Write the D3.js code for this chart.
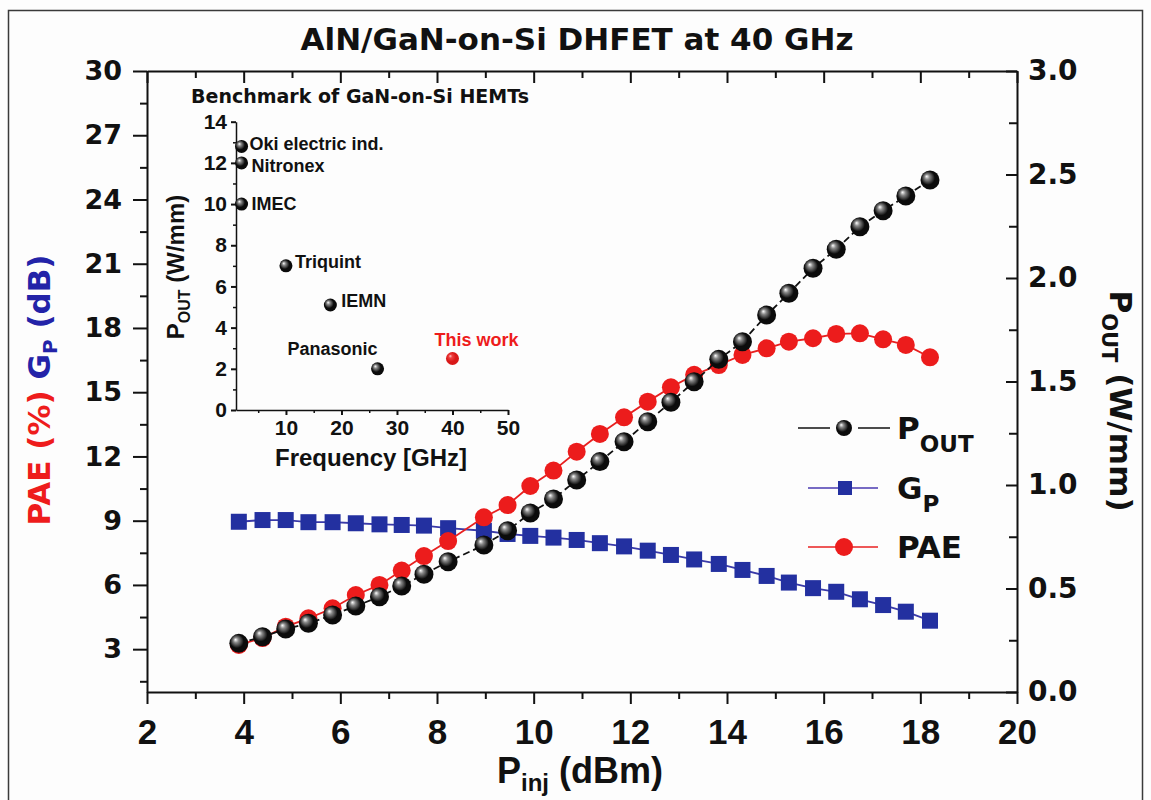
<!DOCTYPE html>
<html>
<head>
<meta charset="utf-8">
<script src="https://cdn.jsdelivr.net/npm/d3@7/dist/d3.min.js"></script>
<style>
    body { margin: 0; background: #fdfdfd; }
    svg text { font-family: "DejaVu Sans", sans-serif; font-weight: bold; fill: #111; }
</style>
</head>
<body>
<svg id="chart" width="1151" height="800"></svg>
<script>
// ---- main curves ----
let pinj = [3.90, 4.39, 4.87, 5.34, 5.84, 6.32, 6.81, 7.27, 7.73, 8.23, 8.97, 9.46, 9.93, 10.41, 10.89,
    11.37, 11.87, 12.36, 12.84, 13.32, 13.83, 14.32, 14.82, 15.28, 15.78, 16.26, 16.75, 17.23, 17.70, 18.20]
let pout = [0.235, 0.267, 0.304, 0.332, 0.372, 0.415, 0.460, 0.512, 0.569, 0.629, 0.710, 0.779, 0.865, 0.932, 1.024,
    1.113, 1.209, 1.306, 1.400, 1.499, 1.607, 1.692, 1.821, 1.926, 2.047, 2.139, 2.248, 2.325, 2.396, 2.473]
let pae = [3.20, 3.52, 4.05, 4.44, 4.91, 5.53, 6.00, 6.67, 7.35, 8.05, 9.16, 9.73, 10.62, 11.34, 12.22,
    13.05, 13.83, 14.56, 15.23, 15.81, 16.27, 16.74, 17.05, 17.36, 17.52, 17.72, 17.75, 17.47, 17.21, 16.63]
let gp = [8.95, 9.03, 9.03, 8.93, 8.93, 8.88, 8.83, 8.80, 8.77, 8.65, 8.53, 8.38, 8.29, 8.21, 8.10,
    7.95, 7.80, 7.60, 7.40, 7.19, 6.98, 6.70, 6.42, 6.11, 5.85, 5.68, 5.33, 5.06, 4.75, 4.33]

// ---- axis ticks ----
let xTicks = [2, 4, 6, 8, 10, 12, 14, 16, 18, 20]
let yLeftTicks = [3, 6, 9, 12, 15, 18, 21, 24, 27, 30]
let yRightTicks = [0, 0.5, 1.0, 1.5, 2.0, 2.5, 3.0]

// ---- inset benchmark ----
let benchLabels = ["Oki electric ind.", "Nitronex", "IMEC", "Triquint", "IEMN", "Panasonic", "This work"]
let benchFreq = [2, 2, 2, 10, 18, 26.5, 40]
let benchPout = [12.8, 12, 10, 7, 5.1, 2, 2.5]
let insetXTicks = [10, 20, 30, 40, 50]
let insetYTicks = [0, 2, 4, 6, 8, 10, 12, 14]

// label placement for the inset points (dx, dy, anchor)
let benchLabelPos = [[8, -3, "start"], [10, 3, "start"], [10, -1, "start"], [9, -4, "start"],
    [11, -4, "start"], [0, -20, "end"], [-18, -19, "start"]]

let W = 1151, H = 800
let plot = { left: 147, right: 1017, top: 71, bottom: 692 }

let svg = d3.select("#chart")
svg.append("rect").attr("width", W).attr("height", H).attr("fill", "#fdfdfd")
//外框
svg.append("rect")
    .attr("x", 8.5).attr("y", 10.5)
    .attr("width", 1134).attr("height", 820)
    .attr("fill", "none").attr("stroke", "#3a3a3a").attr("stroke-width", 1.5)

let x = d3.scaleLinear().domain([2, 20]).range([plot.left, plot.right])
let yL = d3.scaleLinear().domain([1, 30]).range([plot.bottom, plot.top])
let yR = d3.scaleLinear().domain([0, 3]).range([plot.bottom, plot.top])

// sphere gradients
let defs = svg.append("defs")
function ballGradient(id, light, mid, dark) {
    let g = defs.append("radialGradient").attr("id", id)
        .attr("cx", "45%").attr("cy", "45%").attr("r", "60%")
        .attr("fx", "32%").attr("fy", "30%")
    g.append("stop").attr("offset", "0%").attr("stop-color", light)
    g.append("stop").attr("offset", "22%").attr("stop-color", mid)
    g.append("stop").attr("offset", "60%").attr("stop-color", dark)
    g.append("stop").attr("offset", "100%").attr("stop-color", dark)
}
ballGradient("ballBlack", "#ffffff", "#8a8a8a", "#0b0b0b")
ballGradient("ballRed", "#ffd0d0", "#f04040", "#d81818")

function midpoints(arr) {
    return d3.pairs(arr).map(p => (p[0] + p[1]) / 2)
}

function styleAxis(g, size, family) {
    g.selectAll(".domain").attr("stroke", "#111").attr("stroke-width", 2)
    g.selectAll(".tick line").attr("stroke", "#111").attr("stroke-width", 2)
    g.selectAll(".tick text")
        .style("font-size", size + "px")
        .style("font-family", family)
        .style("font-weight", "bold")
        .attr("fill", "#111")
}

// ---- main axes ----
let gBottom = svg.append("g").attr("transform", "translate(0," + plot.bottom + ")")
    .call(d3.axisBottom(x).tickValues(xTicks).tickSize(12).tickSizeOuter(0).tickPadding(15))
styleAxis(gBottom, 35, "'Liberation Sans', Arial, sans-serif")
svg.append("g").attr("transform", "translate(0," + plot.bottom + ")")
    .call(d3.axisBottom(x).tickValues(midpoints(xTicks)).tickSize(7).tickFormat(""))
    .call(g => { g.select(".domain").remove(); g.selectAll("line").attr("stroke", "#111").attr("stroke-width", 2) })

let gTop = svg.append("g").attr("transform", "translate(0," + plot.top + ")")
    .call(d3.axisTop(x).tickValues(xTicks).tickSize(-12).tickSizeOuter(0).tickFormat(""))
styleAxis(gTop, 10, "sans-serif")
svg.append("g").attr("transform", "translate(0," + plot.top + ")")
    .call(d3.axisTop(x).tickValues(midpoints(xTicks)).tickSize(-7).tickFormat(""))
    .call(g => { g.select(".domain").remove(); g.selectAll("line").attr("stroke", "#111").attr("stroke-width", 2) })

let gLeft = svg.append("g").attr("transform", "translate(" + plot.left + ",0)")
    .call(d3.axisLeft(yL).tickValues(yLeftTicks).tickSize(14).tickSizeOuter(0).tickPadding(11))
styleAxis(gLeft, 27, "'DejaVu Sans', sans-serif")
svg.append("g").attr("transform", "translate(" + plot.left + ",0)")
    .call(d3.axisLeft(yL).tickValues([1.5].concat(midpoints(yLeftTicks))).tickSize(7).tickFormat(""))
    .call(g => { g.select(".domain").remove(); g.selectAll("line").attr("stroke", "#111").attr("stroke-width", 2) })

let gRight = svg.append("g").attr("transform", "translate(" + plot.right + ",0)")
    .call(d3.axisRight(yR).tickValues(yRightTicks).tickSize(-11).tickSizeOuter(0).tickPadding(11)
        .tickFormat(d3.format(".1f")))
styleAxis(gRight, 28, "'DejaVu Sans', sans-serif")
svg.append("g").attr("transform", "translate(" + plot.right + ",0)")
    .call(d3.axisRight(yR).tickValues(midpoints(yRightTicks)).tickSize(-8).tickFormat(""))
    .call(g => { g.select(".domain").remove(); g.selectAll("line").attr("stroke", "#111").attr("stroke-width", 2) })

// ---- title and axis titles ----
svg.append("text")
    .attr("x", 577).attr("y", 50)
    .attr("text-anchor", "middle")
    .style("font-size", "31px")
    .text("AlN/GaN-on-Si DHFET at 40 GHz")

let xTitle = svg.append("text")
    .attr("x", 580).attr("y", 783)
    .attr("text-anchor", "middle")
    .style("font-family", "'Liberation Sans', Arial, sans-serif")
    .style("font-size", "36px")
xTitle.append("tspan").text("P")
xTitle.append("tspan").attr("dy", 8).style("font-size", "24px").text("inj")
xTitle.append("tspan").attr("dy", -8).text(" (dBm)")

let yTitle = svg.append("text")
    .attr("transform", "translate(50,390) rotate(-90)")
    .attr("text-anchor", "middle")
    .style("font-size", "31px")
yTitle.append("tspan").attr("fill", "#ee1c1c").text("PAE (%) ")
yTitle.append("tspan").attr("fill", "#2323a8").text("G")
yTitle.append("tspan").attr("fill", "#2323a8").attr("dy", 7).style("font-size", "20px").text("P")
yTitle.append("tspan").attr("fill", "#2323a8").attr("dy", -7).text(" (dB)")

let y2Title = svg.append("text")
    .attr("transform", "translate(1110,401) rotate(90)")
    .attr("text-anchor", "middle")
    .style("font-size", "31px")
y2Title.append("tspan").text("P")
y2Title.append("tspan").attr("dy", 8).style("font-size", "21px").text("OUT")
y2Title.append("tspan").attr("dy", -8).text(" (W/mm)")

// ---- curves ----
let ptsGp = d3.zip(pinj, gp)
let ptsPae = d3.zip(pinj, pae)
let ptsPout = d3.zip(pinj, pout)

let lineL = d3.line().x(d => x(d[0])).y(d => yL(d[1]))
let lineR = d3.line().x(d => x(d[0])).y(d => yR(d[1]))

svg.append("path").datum(ptsGp).attr("d", lineL)
    .attr("fill", "none").attr("stroke", "#3a3aa8").attr("stroke-width", 1.8)
svg.selectAll(".gpMark").data(ptsGp).enter().append("rect")
    .attr("class", "gpMark")
    .attr("x", d => x(d[0]) - 8).attr("y", d => yL(d[1]) - 8)
    .attr("width", 16).attr("height", 16)
    .attr("fill", "#2330a0")

svg.append("path").datum(ptsPae).attr("d", lineL)
    .attr("fill", "none").attr("stroke", "#e82020").attr("stroke-width", 1.8)
svg.selectAll(".paeMark").data(ptsPae).enter().append("circle")
    .attr("class", "paeMark")
    .attr("cx", d => x(d[0])).attr("cy", d => yL(d[1]))
    .attr("r", 9)
    .attr("fill", "#ec1c1c")

svg.append("path").datum(ptsPout).attr("d", lineR)
    .attr("fill", "none").attr("stroke", "#111").attr("stroke-width", 1.8)
    .attr("stroke-dasharray", "7,4")
svg.selectAll(".poutMark").data(ptsPout).enter().append("circle")
    .attr("class", "poutMark")
    .attr("cx", d => x(d[0])).attr("cy", d => yR(d[1]))
    .attr("r", 9.5)
    .attr("fill", "url(#ballBlack)")

// ---- legend ----
let legend = svg.append("g")
let legY = [428, 488, 547]
// P_OUT
legend.append("line").attr("x1", 798).attr("x2", 830).attr("y1", legY[0]).attr("y2", legY[0])
    .attr("stroke", "#111").attr("stroke-width", 1.5)
legend.append("line").attr("x1", 858).attr("x2", 890).attr("y1", legY[0]).attr("y2", legY[0])
    .attr("stroke", "#111").attr("stroke-width", 1.5)
legend.append("circle").attr("cx", 844).attr("cy", legY[0]).attr("r", 8).attr("fill", "url(#ballBlack)")
// G_P
legend.append("line").attr("x1", 808).attr("x2", 878).attr("y1", legY[1]).attr("y2", legY[1])
    .attr("stroke", "#4a3ab0").attr("stroke-width", 1.5)
legend.append("rect").attr("x", 838).attr("y", legY[1] - 7).attr("width", 14).attr("height", 14).attr("fill", "#2330a0")
// PAE
legend.append("line").attr("x1", 808).attr("x2", 878).attr("y1", legY[2]).attr("y2", legY[2])
    .attr("stroke", "#e82020").attr("stroke-width", 1.5)
legend.append("circle").attr("cx", 844).attr("cy", legY[2]).attr("r", 9).attr("fill", "#ec1c1c")

let legText = [["P", "OUT"], ["G", "P"], ["PAE", ""]]
legText.forEach(function (t, i) {
    let tx = legend.append("text").attr("x", 897).attr("y", legY[i] + 11).style("font-size", "31px")
    tx.append("tspan").text(t[0])
    if (t[1] !== "")
        tx.append("tspan").attr("dy", 13).style("font-size", "23px").text(t[1])
})

// ---- inset ----
let ix = d3.scaleLinear().domain([1, 50]).range([236, 508])
let iy = d3.scaleLinear().domain([0, 14]).range([410, 121.7])
let inset = svg.append("g")

let giX = inset.append("g").attr("transform", "translate(0,410)")
    .call(d3.axisBottom(ix).tickValues(insetXTicks).tickSize(5).tickSizeOuter(0).tickPadding(5))
styleAxis(giX, 21, "'Liberation Sans', Arial, sans-serif")
inset.append("g").attr("transform", "translate(0,410)")
    .call(d3.axisBottom(ix).tickValues([5].concat(midpoints(insetXTicks))).tickSize(3).tickFormat(""))
    .call(g => { g.select(".domain").remove(); g.selectAll("line").attr("stroke", "#111").attr("stroke-width", 1.5) })

let giY = inset.append("g").attr("transform", "translate(236,0)")
    .call(d3.axisLeft(iy).tickValues(insetYTicks).tickSize(5).tickSizeOuter(0).tickPadding(4))
styleAxis(giY, 21, "'Liberation Sans', Arial, sans-serif")
inset.append("g").attr("transform", "translate(236,0)")
    .call(d3.axisLeft(iy).tickValues(midpoints(insetYTicks)).tickSize(3).tickFormat(""))
    .call(g => { g.select(".domain").remove(); g.selectAll("line").attr("stroke", "#111").attr("stroke-width", 1.5) })
inset.selectAll(".domain").attr("stroke-width", 1.5)

inset.append("text")
    .attr("x", 360).attr("y", 103)
    .attr("text-anchor", "middle")
    .style("font-size", "19px")
    .text("Benchmark of GaN-on-Si HEMTs")

inset.append("text")
    .attr("x", 371).attr("y", 466)
    .attr("text-anchor", "middle")
    .style("font-family", "'Liberation Sans', Arial, sans-serif")
    .style("font-size", "24px")
    .text("Frequency [GHz]")

let iyTitle = inset.append("text")
    .attr("transform", "translate(184,267) rotate(-90)")
    .attr("text-anchor", "middle")
    .style("font-family", "'Liberation Sans', Arial, sans-serif")
    .style("font-size", "24px")
iyTitle.append("tspan").text("P")
iyTitle.append("tspan").attr("dy", 6).style("font-size", "16px").text("OUT")
iyTitle.append("tspan").attr("dy", -6).text(" (W/mm)")

let benchPts = d3.zip(benchFreq, benchPout, benchLabels)
inset.selectAll(".benchMark").data(benchPts).enter().append("circle")
    .attr("class", "benchMark")
    .attr("cx", d => ix(d[0])).attr("cy", d => iy(d[1]))
    .attr("r", 6.5)
    .attr("fill", (d, i) => i === benchPts.length - 1 ? "url(#ballRed)" : "url(#ballBlack)")

inset.selectAll(".benchLabel").data(benchPts).enter().append("text")
    .attr("class", "benchLabel")
    .attr("x", (d, i) => ix(d[0]) + benchLabelPos[i][0])
    .attr("y", (d, i) => iy(d[1]) + benchLabelPos[i][1])
    .attr("dy", "0.36em")
    .attr("text-anchor", (d, i) => benchLabelPos[i][2])
    .style("font-family", "'Liberation Sans', Arial, sans-serif")
    .style("font-size", "18px")
    .style("fill", (d, i) => i === benchPts.length - 1 ? "#ee1c1c" : "#111")
    .text(d => d[2])
</script>
</body>
</html>
